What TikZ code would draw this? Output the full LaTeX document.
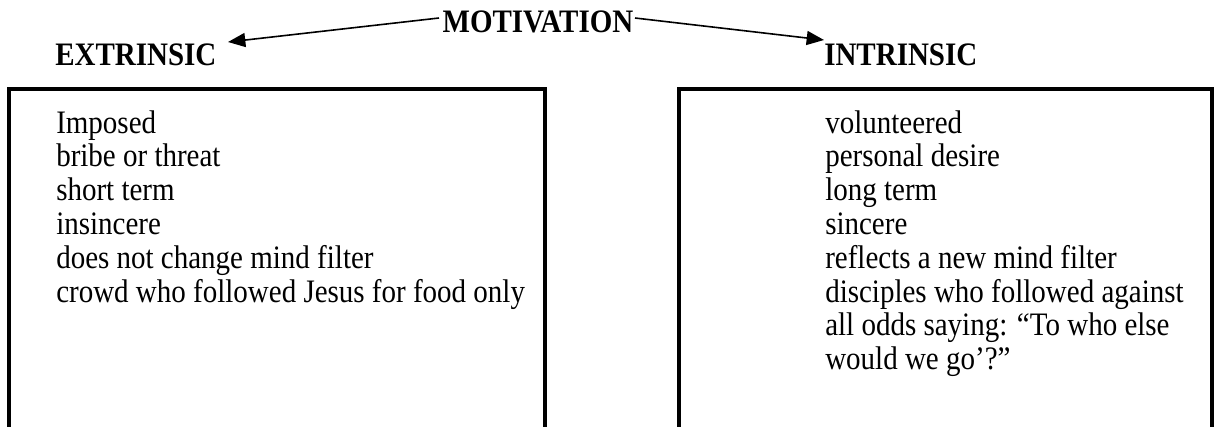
\documentclass[tikz,border=0pt]{standalone}
\usepackage{graphicx}
\usepackage{fontspec}
\setmainfont{Liberation Serif}
\usetikzlibrary{arrows.meta}
\newcommand\vstr[1]{\scalebox{1}[1.13]{#1}}
\begin{document}
\begin{tikzpicture}[x=0.75pt,y=-0.75pt,
  txt/.style={inner sep=0pt,anchor=base west,font=\fontsize{21.75}{25.35}\selectfont},
  head/.style={inner sep=0pt,font=\fontsize{21.75}{25.35}\selectfont\bfseries},
  panel/.style={draw=black,line width=2.5pt},
  arr/.style={line width=1.2pt,-{Triangle[length=13pt,width=10.5pt]}}]
\useasboundingbox (0,0) rectangle (1216,426);
\begin{scope}
\clip (0,0) rectangle (1216,426);
\draw[panel] (9,89) rectangle (545,460);
\draw[panel] (679,89) rectangle (1212,460);
\end{scope}
\node[head,anchor=base] (mot) at (538,32) {\vstr{MOTIVATION}};
\node[head,anchor=base west] (ext) at (55,65) {\vstr{EXTRINSIC}};
\node[head,anchor=base west] (int) at (824,65) {\vstr{INTRINSIC}};
\coordinate (ml) at (439,18);
\coordinate (mr) at (635,18);
\coordinate (etip) at (228,42);
\coordinate (itip) at (824,40);
\draw[arr] (ml) -- (etip);
\draw[arr] (mr) -- (itip);
\foreach \t [count=\i] in {Imposed,bribe or threat,short term,insincere,does not change mind filter,crowd who followed Jesus for food only}
  \node[txt] (l\i) at (56,{133+(\i-1)*33.8}) {\vstr{\t}};
\foreach \t [count=\i] in {volunteered,personal desire,long term,sincere,reflects a new mind filter,disciples who followed against,all odds saying: “To who else,would we go’?”}
  \node[txt] (r\i) at (825,{133+(\i-1)*33.8}) {\vstr{\t}};
\end{tikzpicture}
\end{document}
